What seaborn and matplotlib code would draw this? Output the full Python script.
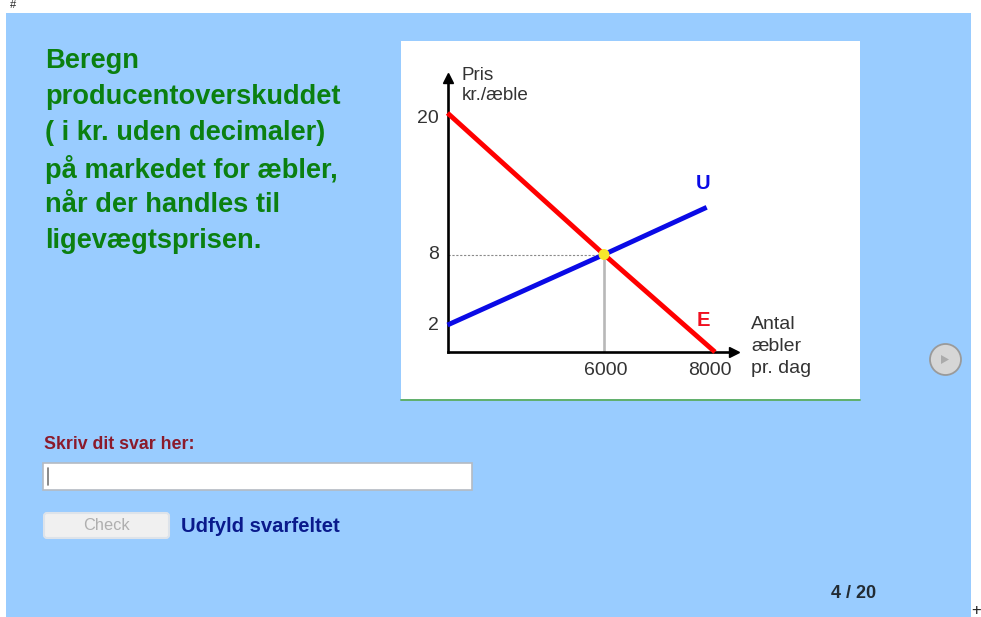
import numpy as np
import pandas as pd
import seaborn as sns
import matplotlib
matplotlib.use("Agg")
import matplotlib.pyplot as plt
from matplotlib.patches import Rectangle, FancyBboxPatch, Circle, Polygon
from matplotlib.transforms import ScaledTranslation

# ---- data ----
demand_x = [0, 6000, 8000]
demand_y = [20, 8, 0]
supply_x = [0, 6000, 7850]
supply_y = [2, 8, 12]
eq_x = [6000]
eq_y = [8]
x_ticks = [6000, 8000]
y_ticks = [2, 8, 20]
heading = ["Beregn", "producentoverskuddet", "( i kr. uden decimaler)",
           "på markedet for æbler,", "når der handles til", "ligevægtsprisen."]
x_note = ["Antal", "æbler", "pr. dag"]
y_note = ["Pris", "kr./æble"]

W, H = 981, 617
sns.set_theme(style="white")
plt.rcParams['font.family'] = ['Liberation Sans', 'DejaVu Sans']

fig = plt.figure(figsize=(W / 100, H / 100), dpi=100, facecolor="white")

# page layer in pixel coordinates
bg = fig.add_axes([0, 0, 1, 1])
bg.set_xlim(0, W)
bg.set_ylim(H, 0)
bg.axis("off")
bg.add_patch(Rectangle((6, 13), 965, 604, fc="#99CCFF", ec="none"))
bg.add_patch(Rectangle((401, 41), 459, 359, fc="white", ec="none"))
bg.plot([401, 860], [400, 400], color="#5FAF6A", lw=1.4)

bg.text(10, 8.5, "#", fontsize=8, color="#222222", ha="left", va="baseline")
bg.text(976, 610, "+", fontsize=12, color="#222222", ha="center", va="center")

line_y = [61.5, 97.5, 133.5, 169.5, 205.5, 241.5]
for s, y in zip(heading, line_y):
    bg.text(45, y, s, fontsize=19.6, fontweight="bold", color="#0B8010", ha="left", va="center")

bg.text(44.5, 444.5, "Skriv dit svar her:", fontsize=12.8, fontweight="bold", color="#8B1A2B",
        ha="left", va="center")
bg.add_patch(Rectangle((43, 463), 429, 27, fc="white", ec="#B4BAC2", lw=1.2))
bg.plot([47.5, 47.5], [468, 485], color="#777777", lw=1.2)
bg.add_patch(FancyBboxPatch((44, 513), 125, 25, boxstyle="round,pad=0,rounding_size=3",
                            fc="#F0F0F0", ec="#DDE3EA", lw=1.5))
bg.text(106, 525.5, "Check", fontsize=11.8, color="#AFAFAF", ha="center", va="center")
bg.text(181, 526, "Udfyld svarfeltet", fontsize=14.6, fontweight="bold", color="#0A1A8C",
        ha="left", va="center")
bg.text(831, 593.5, "4 / 20", fontsize=13, fontweight="bold", color="#222B33", ha="left", va="center")
bg.add_patch(Circle((945.5, 359.5), 15.5, fc="#D6D6D6", ec="#9A9A9A", lw=1.3))
bg.add_patch(Polygon([[941, 355], [941, 364], [949, 359.5]], fc="#ABABAB", ec="none"))

# chart axes: origin at pixel (447.5, 352)
L, B, R, T = 447.5, 352, 733.5, 77.5
ax = fig.add_axes([L / W, 1 - B / H, (R - L) / W, (B - T) / H])
ax.patch.set_alpha(0)

xdom, xpx = [0, 6000, 8000, 9000], [0, 156.5, 267.5, 286]
ydom, ypx = [0, 2, 8, 20, 24], [0, 27, 97.5, 239, 274.5]
ax.set_xscale("function", functions=(lambda v: np.interp(v, xdom, xpx),
                                     lambda v: np.interp(v, xpx, xdom)))
ax.set_yscale("function", functions=(lambda v: np.interp(v, ydom, ypx),
                                     lambda v: np.interp(v, ypx, ydom)))

curves = pd.concat([
    pd.DataFrame({"x": demand_x, "y": demand_y, "kurve": "E"}),
    pd.DataFrame({"x": supply_x, "y": supply_y, "kurve": "U"}),
])
ax.plot([0, 6000], [8, 8], color="#8A8A8A", lw=0.8, ls=(0, (2, 1.5)), zorder=1)
ax.plot([6000, 6000], [0, 8], color="#B8B8B8", lw=1.9, zorder=1, solid_capstyle="butt")
sns.lineplot(data=curves, x="x", y="y", hue="kurve", palette={"E": "#FF0000", "U": "#0A0AE6"},
             linewidth=3.5, sort=False, estimator=None, legend=False, ax=ax, zorder=3,
             clip_on=False)
for ln in ax.get_lines():
    ln.set_solid_capstyle("butt")
ax.scatter(eq_x, eq_y, s=62, color="#F7E92A", edgecolor="none", zorder=5)

ax.set_xlim(0, 9000)
ax.set_ylim(0, 24)
ax.set_xlabel("")
ax.set_ylabel("")
ax.set_xticks(x_ticks, [str(v) for v in x_ticks])
ax.set_yticks(y_ticks, [str(v) for v in y_ticks])
ax.minorticks_off()
ax.tick_params(axis="both", length=0, labelsize=14, labelcolor="#333333")
ax.tick_params(axis="x", pad=7)
ax.tick_params(axis="y", pad=6)
for lab, dx in zip(ax.get_xticklabels(), [2, -5]):
    lab.set_transform(lab.get_transform() + ScaledTranslation(dx / 100, 0, fig.dpi_scale_trans))
for lab, dy in zip(ax.get_yticklabels(), [1, 2, -3.5]):
    lab.set_transform(lab.get_transform() + ScaledTranslation(0, dy / 100, fig.dpi_scale_trans))

for s in ["top", "right"]:
    ax.spines[s].set_visible(False)
for s in ["left", "bottom"]:
    ax.spines[s].set_color("black")
    ax.spines[s].set_linewidth(1.9)
ax.plot(1, 0, marker=">", color="black", ms=6.5, transform=ax.transAxes, clip_on=False, zorder=6)
ax.plot(0, 1, marker="^", color="black", ms=6.5, transform=ax.transAxes, clip_on=False, zorder=6)

# chart notes, in pixel coordinates on the page layer
bg.set_zorder(ax.get_zorder() - 1)
bg.text(703, 183.5, "U", fontsize=14.5, fontweight="bold", color="#0A0AE6", ha="center", va="center")
bg.text(703, 320.5, "E", fontsize=14.5, fontweight="bold", color="#F01020", ha="center", va="center")
for s, y in zip(y_note, [75, 96]):
    bg.text(461.5, y, s, fontsize=13.6, color="#333333", ha="left", va="center")
for s, y in zip(x_note, [324.5, 346.5, 368.5]):
    bg.text(751, y, s, fontsize=14, color="#333333", ha="left", va="center")

fig.savefig("out.png", dpi=100)
